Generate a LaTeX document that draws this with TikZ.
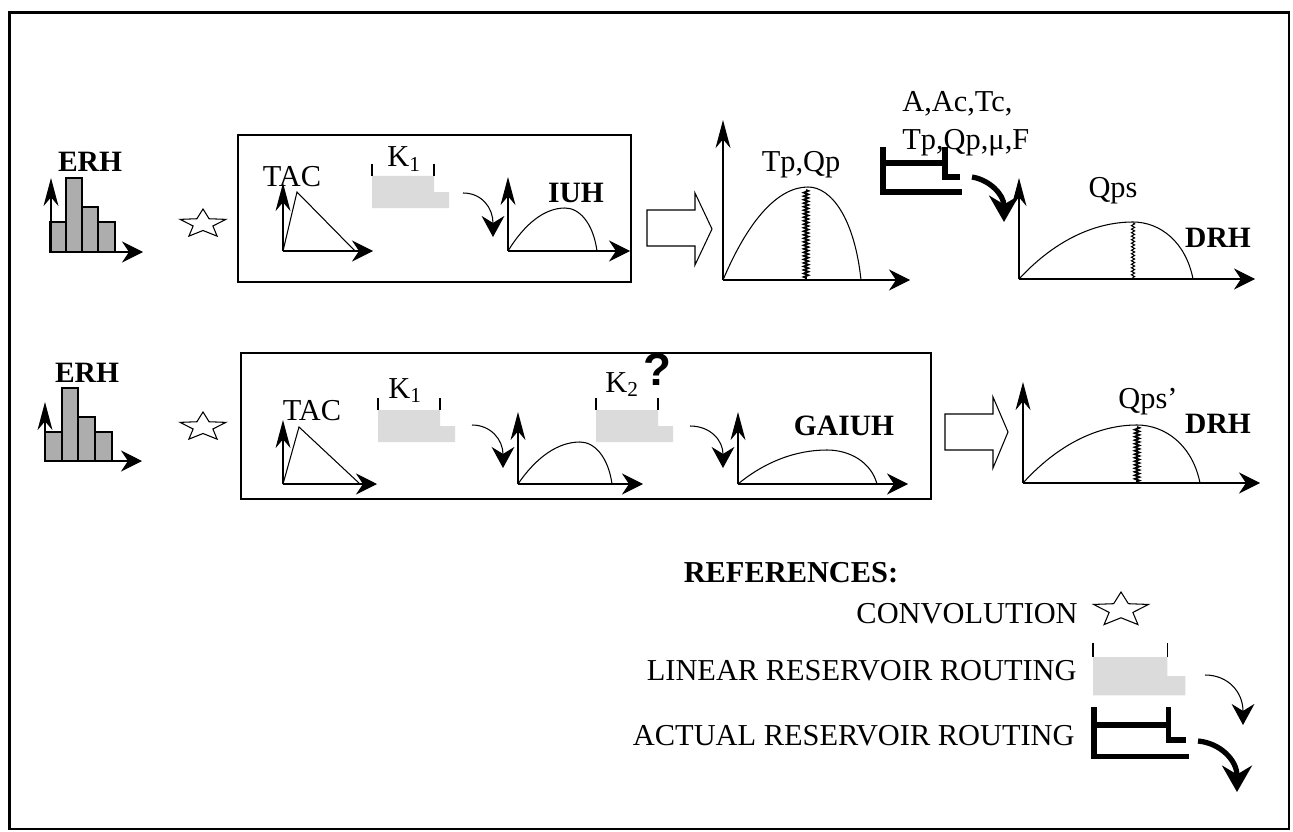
\documentclass[tikz,border=0pt]{standalone}
\usepackage{fontspec}
\setmainfont{Liberation Serif}
\newfontfamily\qfont{Liberation Sans}
\usetikzlibrary{arrows.meta,decorations.pathmorphing}
\definecolor{resgray}{gray}{0.86}

% flattened convolution star: centre, size
\newcommand{\convstar}[2]{%
  \draw[shift={(#1)},scale=#2,xscale=1.6,yscale=-1,line width=0.6pt,line join=miter]
    (90:15) \foreach \k in {1,...,9}{ -- ({90+36*\k}:{15-8.5*mod(\k,2)}) } -- cycle;}
% linear reservoir: top-left corner, scale
\newcommand{\linres}[2]{%
  \begin{scope}[shift={(#1)},scale=#2]
    \fill[resgray] (0,0) -- (62,0) -- (62,16) -- (77,16) -- (77,32) -- (0,32) -- cycle;
    \draw[line width=0.6pt] (0,-12) -- (0,0) (62,-12) -- (62,0);
  \end{scope}}
% actual reservoir: top-left corner, scaling
\newcommand{\actres}[2]{%
  \draw[shift={(#1)},#2,line width=3.3pt]
    (0,0) -- (0,45) -- (79,45) (0,16) -- (62,16) (62,0) |- (77,30);}
% hydrograph: x0, y0, peak x, peak y, end x
\newcommand{\hump}[5]{%
  \draw[line width=0.6pt] (#1,#2) .. controls ({#1+0.3*(#3-#1)},{#4+0.35*(#2-#4)}) and ({#3-0.35*(#3-#1)},#4) .. (#3,#4)
    .. controls ({#3+0.45*(#5-#3)},#4) and ({#5-0.12*(#5-#3)},{#4+0.35*(#2-#4)}) .. (#5,#2);}

\begin{document}
\begin{tikzpicture}[x=0.02cm,y=-0.02cm,
  every node/.style={font=\fontsize{17.3}{20}\selectfont,inner sep=0pt},
  lbl/.style={font=\fontsize{16.8}{20}\selectfont\bfseries},
  xax/.style={line width=0.6pt,-{Stealth[length=12pt,width=12pt,inset=4pt]}},
  yax/.style={line width=0.6pt,-{Stealth[length=16pt,width=8.5pt,inset=5pt]}},
  jag/.style={decorate,decoration={zigzag,segment length=2pt,amplitude=1.3pt},line width=1pt},
  thinrout/.style={line width=0.6pt,-{Stealth[length=12pt,width=13pt,inset=4pt]}},
  thickrout/.style={line width=3pt,-{Stealth[length=15pt,width=17pt,inset=5pt]}},
  boxline/.style={line width=0.9pt},
  erhbar/.style={fill=black!32,draw,line width=0.6pt}]
\useasboundingbox (0,0) rectangle (1293,831);
\draw[line width=1.4pt] (9.5,12.5) rectangle (1289,829);

% first row
\foreach \xa/\xb/\h in {50/66/222,66/82/178,82/98/207,98/115/222}
  \draw[erhbar] (\xa,252) rectangle (\xb,\h);
\draw[yax] (51,252) -- (51,178);
\draw[xax] (51,252) -- (143,252);
\node[lbl,anchor=base] (erhA) at (90,172) {ERH};
\convstar{203,224}{1}
\draw[boxline] (238,135) rectangle (631,282);
\draw[yax] (283,251) -- (283,183);
\draw[xax] (283,251) -- (373,251);
\draw[line width=0.6pt] (283,251) -- (297,192) -- (355,251);
\node[anchor=base] (tacA) at (292,187) {TAC};
\linres{372,176}{1}
\node[anchor=base west] (kA) at (387,167) {K\textsubscript{1}};
\coordinate (rA) at (463,193); \coordinate (rB) at (493,237);
\draw[thinrout] (rA) .. controls (482,193) and (493,208) .. (rB);
\draw[yax] (508,251) -- (508,177);
\draw[xax] (508,251) -- (630,251);
\hump{508}{251}{565}{208}{597}
\node[lbl,anchor=base] (iuh) at (576,202) {IUH};
\draw[line width=0.6pt] (647,210) -- (695,210) -- (695,193) -- (712,229) -- (695,265) -- (695,246) -- (647,246) -- cycle;
\draw[yax] (723,280) -- (723,120);
\draw[xax] (723,280) -- (910,280);
\hump{723}{280}{808}{187}{861}
\draw[jag] (806,190) -- (806,279);
\node[anchor=base] (tpqp) at (801,172) {Tp,Qp};
\node[anchor=base west] (parA) at (902,112) {A,Ac,Tc,};
\node[anchor=base west] (parB) at (902,150) {Tp,Qp,μ,F};
\actres{883,147}{scale=1}
\coordinate (tA) at (972,177); \coordinate (tB) at (1004,222);
\draw[thickrout] (tA) .. controls (990,180) and (1004,195) .. (tB);
\draw[yax] (1019,279) -- (1019,178);
\draw[xax] (1019,279) -- (1255,279);
\hump{1019}{279}{1133}{222}{1193}
\draw[jag,line width=0.6pt,decoration={amplitude=0.9pt}] (1133,223) -- (1133,279);
\node[anchor=base] (qps) at (1113,197) {Qps};
\node[lbl,anchor=base] (drhA) at (1218,247) {DRH};

% second row
\foreach \xa/\xb/\h in {45/62/432,62/78/388,78/95/417,95/112/432}
  \draw[erhbar] (\xa,461) rectangle (\xb,\h);
\draw[yax] (45,461) -- (45,402);
\draw[xax] (45,461) -- (142,461);
\node[lbl,anchor=base] (erhB) at (87,382) {ERH};
\convstar{203,427}{1}
\draw[boxline] (241,353) rectangle (931,499);
\draw[yax] (283,484) -- (283,420);
\draw[xax] (283,484) -- (377,484);
\draw[line width=0.6pt] (283,484) -- (299,427) -- (360,484);
\node[anchor=base] (tacB) at (312,420) {TAC};
\linres{378,410}{1}
\node[anchor=base west] (kB) at (388,398) {K\textsubscript{1}};
\coordinate (rC) at (472,425); \coordinate (rD) at (503,468);
\draw[thinrout] (rC) .. controls (491,425) and (503,440) .. (rD);
\draw[yax] (518,484) -- (518,412);
\draw[xax] (518,484) -- (643,484);
\hump{518}{484}{580}{442}{612}
\linres{596,410}{1}
\node[anchor=base west] (kC) at (605,392) {K\textsubscript{2}};
\node[font={\fontsize{26}{26}\selectfont\qfont\bfseries}] (quest) at (657,370) {?};
\coordinate (rE) at (690,426); \coordinate (rF) at (723,468);
\draw[thinrout] (rE) .. controls (710,426) and (723,440) .. (rF);
\draw[yax] (738,484) -- (738,412);
\draw[xax] (738,484) -- (908,484);
\hump{738}{484}{827}{450}{877}
\node[lbl,anchor=base] (gaiuh) at (844,435) {GAIUH};
\draw[line width=0.6pt] (945,414) -- (993,414) -- (993,397) -- (1008,432) -- (993,468) -- (993,450) -- (945,450) -- cycle;
\draw[yax] (1023,483) -- (1023,382);
\draw[xax] (1023,483) -- (1260,483);
\hump{1023}{483}{1137}{425}{1200}
\draw[jag] (1137,427) -- (1137,483);
\node[anchor=base] (qpsB) at (1148,408) {Qps’};
\node[lbl,anchor=base] (drhB) at (1218,433) {DRH};

% references
\node[lbl,font=\fontsize{17.3}{20}\selectfont\bfseries,anchor=base] (refs) at (791,582) {REFERENCES:};
\node[anchor=base east] (lconv) at (1078,623) {CONVOLUTION};
\convstar{1121,610}{1.2}
\node[anchor=base east] (llin) at (1077,680) {LINEAR RESERVOIR ROUTING};
\linres{1093,657}{1.2}
\coordinate (rG) at (1205,675); \coordinate (rH) at (1243,725);
\draw[thinrout] (rG) .. controls (1228,675) and (1243,692) .. (rH);
\node[anchor=base east] (lact) at (1075,745) {ACTUAL RESERVOIR ROUTING};
\actres{1094,707}{xscale=1.2,yscale=1.1}
\coordinate (tC) at (1198,741); \coordinate (tD) at (1237,792);
\draw[thickrout] (tC) .. controls (1220,743) and (1237,760) .. (tD);
\end{tikzpicture}
\end{document}
